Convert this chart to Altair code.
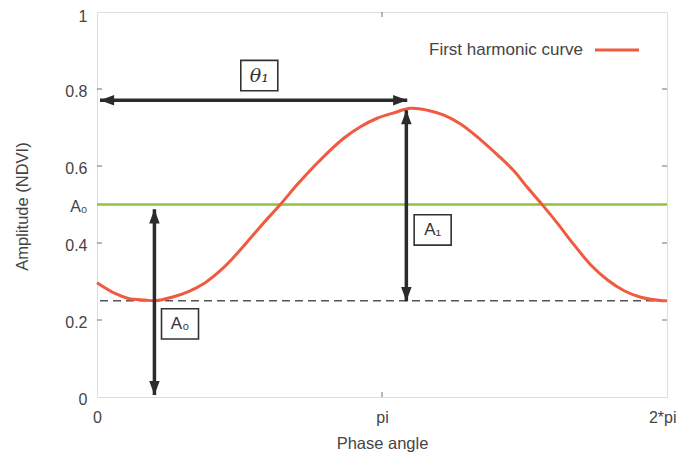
import math
import altair as alt
import pandas as pd

PI = math.pi

# ---- data ----
curve_x = [0.0, 0.199, 0.346, 0.530, 0.640, 0.825, 1.008, 1.193, 1.377, 1.487,
           1.653, 1.836, 2.021, 2.205, 2.388, 2.536, 2.720, 2.904, 3.088, 3.272,
           3.456, 3.641, 3.824, 4.008, 4.229, 4.414, 4.597, 4.745, 4.910, 5.076,
           5.259, 5.444, 5.628, 5.811, 5.996, 6.235, 6.283]
curve_y = [0.297, 0.269, 0.256, 0.252, 0.250, 0.259, 0.274, 0.297, 0.332, 0.358,
           0.402, 0.452, 0.500, 0.551, 0.598, 0.633, 0.672, 0.702, 0.724, 0.738,
           0.750, 0.745, 0.732, 0.709, 0.668, 0.629, 0.587, 0.544, 0.499, 0.451,
           0.395, 0.343, 0.304, 0.276, 0.259, 0.250, 0.250]

mean_level = [0.5]          # A0 line
min_level = [0.25]          # dashed line

# arrows: start/end
arrow_name = ["theta", "A1", "A0"]
arrow_x1 = [0.033, 3.41, 0.633]
arrow_x2 = [3.42, 3.41, 0.633]
arrow_y1 = [0.771, 0.249, 0.005]
arrow_y2 = [0.771, 0.745, 0.4875]

# boxed labels
box_text = ["θ₁", "A₁", "A₀"]
box_x = [1.789, 3.70, 0.915]
box_y = [0.835, 0.434, 0.19]

x_tick_values = [0, PI, 2 * PI]
x_tick_labels = ["0", "pi", "2*pi"]
y_tick_values = [0, 0.2, 0.4, 0.5, 0.6, 0.8, 1]
y_tick_labels = ["0", "0.2", "0.4", "A₀", "0.6", "0.8", "1"]
minor_y_ticks = [0.2, 0.4, 0.6, 0.8]
minor_x_ticks = [PI]

legend_label = "First harmonic curve"

# ---- build ----
W, H = 570, 385
TXT = "#444444"
FONT = "Liberation Sans"


def label_expr(values, labels):
    expr = "''"
    for v, l in reversed(list(zip(values, labels))):
        expr = f"abs(datum.value - {v}) < 1e-6 ? '{l}' : ({expr})"
    return expr


xs = alt.Scale(domain=[0, 2 * PI], nice=False, zero=False)
ys = alt.Scale(domain=[0, 1], nice=False, zero=False)

x_axis = alt.Axis(values=x_tick_values, labelExpr=label_expr(x_tick_values, x_tick_labels),
                  ticks=False, domain=False, grid=False, labelFontSize=16, labelColor=TXT,
                  labelFont=FONT, labelPadding=12,
                  labelAlign={"condition": {"test": "datum.value > 6", "value": "right"},
                              "value": "center"},
                  labelOffset={"condition": {"test": "datum.value > 6", "value": 9},
                               "value": 0},
                  titleFont=FONT, titleFontSize=16.5,
                  titleFontWeight="normal", titleColor=TXT, titleY=51,
                  titleBaseline="alphabetic", labelFlush=False, labelOverlap=False)
y_axis = alt.Axis(values=y_tick_values, labelExpr=label_expr(y_tick_values, y_tick_labels),
                  ticks=False, domain=False, grid=False, labelFontSize=16, labelColor=TXT,
                  labelFont=FONT, labelPadding=10,
                  labelOffset={"condition": {"test": "datum.value > 0.99", "value": 4},
                               "value": 2},
                  titleFont=FONT,
                  titleFontSize=16.5, titleFontWeight="normal", titleColor=TXT,
                  titleX=-75, titleY=194, titleBaseline="middle", titleAngle=-90,
                  labelFlush=False, labelOverlap=False)

curve_df = pd.DataFrame({"x": curve_x, "y": curve_y})
X = alt.X("x:Q", scale=xs, axis=x_axis, title="Phase angle")
Y = alt.Y("y:Q", scale=ys, axis=y_axis, title="Amplitude (NDVI)")

curve = alt.Chart(curve_df).mark_line(color="#f05a40", strokeWidth=3,
                                      interpolate="catmull-rom").encode(x=X, y=Y)

green = alt.Chart(pd.DataFrame({"y": mean_level})).mark_rule(
    color="#8cc43c", strokeWidth=2.5).encode(y=Y)
dashed = alt.Chart(pd.DataFrame({"y": min_level})).mark_rule(
    color="#555555", strokeWidth=1.4, strokeDash=[8, 5]).encode(y=Y)

arr_df = pd.DataFrame({"name": arrow_name, "x": arrow_x1, "x2": arrow_x2,
                       "y": arrow_y1, "y2": arrow_y2})
arrow_lines = alt.Chart(arr_df).mark_rule(color="#2b2b2b", strokeWidth=3.5).encode(
    x=X, x2="x2:Q", y=Y, y2="y2:Q")

# arrow heads: one at each end
head_rows = []
for n, xa, xb, ya, yb in zip(arrow_name, arrow_x1, arrow_x2, arrow_y1, arrow_y2):
    if ya == yb:
        head_rows.append({"x": xa, "y": ya, "dir": "left"})
        head_rows.append({"x": xb, "y": yb, "dir": "right"})
    else:
        head_rows.append({"x": xa, "y": ya, "dir": "down"})
        head_rows.append({"x": xb, "y": yb, "dir": "up"})
heads_df = pd.DataFrame(head_rows)
head_paths = ["M0,0 L-1,2.7 L1,2.7 Z", "M0,0 L-1,-2.7 L1,-2.7 Z",
              "M0,0 L2.7,-1 L2.7,1 Z", "M0,0 L-2.7,-1 L-2.7,1 Z"]
heads = alt.Chart(heads_df).mark_point(filled=True, color="#2b2b2b", opacity=1,
                                       size=110).encode(
    x=X, y=Y,
    shape=alt.Shape("dir:N", scale=alt.Scale(domain=["up", "down", "left", "right"],
                                             range=head_paths), legend=None))

box_df = pd.DataFrame({"t": box_text, "x": box_x, "y": box_y})
boxes = alt.Chart(box_df).mark_point(
    shape="M-1,-0.82 L1,-0.82 L1,0.82 L-1,0.82 Z", size=1369, filled=True,
    fill="white", stroke="#333333", strokeWidth=1.6, opacity=1).encode(x=X, y=Y)
box_theta = alt.Chart(box_df.iloc[[0]]).mark_text(
    font="DejaVu Serif", fontStyle="italic", fontSize=19, color="#333333",
    baseline="middle", align="center").encode(x=X, y=Y, text="t:N")
box_a = alt.Chart(box_df.iloc[[1, 2]]).mark_text(
    font=FONT, fontSize=17, color="#333333", baseline="middle",
    align="center").encode(x=X, y=Y, text="t:N")

# inward mirrored ticks
yt_df = pd.DataFrame({"y": minor_y_ticks})
xt_df = pd.DataFrame({"x": minor_x_ticks})
tick_style = dict(color="#555555", thickness=1.2, size=5)
ticks_left = alt.Chart(yt_df).mark_tick(orient="horizontal", **tick_style).encode(
    y=Y, x=alt.value(2.5))
ticks_right = alt.Chart(yt_df).mark_tick(orient="horizontal", **tick_style).encode(
    y=Y, x=alt.value(W - 2.5))
ticks_top = alt.Chart(xt_df).mark_tick(orient="vertical", **tick_style).encode(
    x=X, y=alt.value(2.5))
ticks_bottom = alt.Chart(xt_df).mark_tick(orient="vertical", **tick_style).encode(
    x=X, y=alt.value(H - 2.5))

# legend (label left of the line sample, as in the figure)
leg_df = pd.DataFrame({"label": [legend_label]})
leg_text = alt.Chart(leg_df).mark_text(
    font=FONT, fontSize=17, color=TXT, align="right", baseline="middle").encode(
    text="label:N", x=alt.value(486), y=alt.value(38))
leg_line = alt.Chart(leg_df).mark_rule(color="#f05a40", strokeWidth=3).encode(
    x=alt.value(498), x2=alt.value(542), y=alt.value(38))

chart = alt.layer(
    green, dashed, curve, arrow_lines, heads, boxes, box_theta, box_a,
    ticks_left, ticks_right, ticks_top, ticks_bottom, leg_text, leg_line
).properties(
    width=W, height=H,
    autosize=alt.AutoSizeParams(type="none"),
    padding={"left": 89, "top": 4, "right": 9, "bottom": 60},
).configure_view(stroke="#555555", strokeWidth=1.3).configure(background="white")

chart.save("out.html", embed_options={"renderer": "svg", "actions": False})
